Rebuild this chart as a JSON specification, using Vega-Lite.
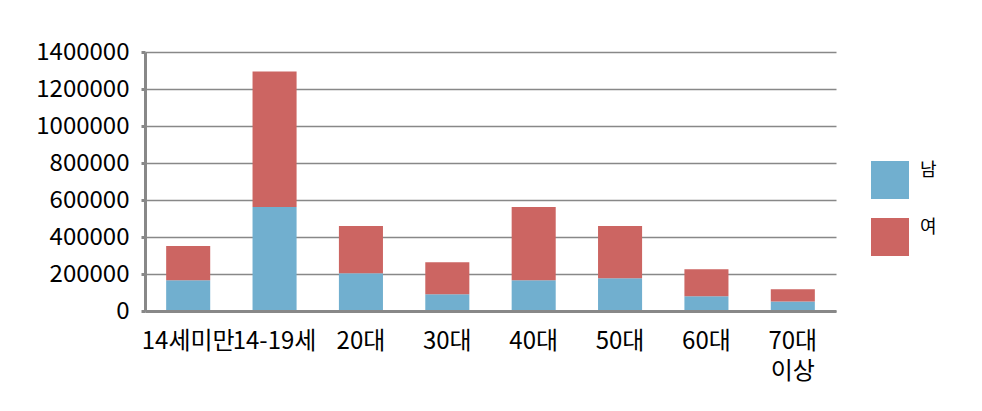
{
  "$schema": "https://vega.github.io/schema/vega-lite/v6.json",
  "width": 691,
  "height": 259,
  "autosize": {"type": "none"},
  "padding": {"left": 145, "top": 52, "right": 146, "bottom": 100},
  "background": "white",
  "config": {
    "font": "Noto Sans CJK KR",
    "view": {"stroke": null},
    "axis": {"labelFont": "Noto Sans CJK KR", "labelColor": "#000000"},
    "legend": {"labelFont": "Noto Sans CJK KR", "labelColor": "#000000"}
  },
  "data": {
    "values": [
      {"age": "14세미만", "sex": "남", "value": 166000, "ord": 0},
      {"age": "14세미만", "sex": "여", "value": 185000, "ord": 1},
      {"age": "14-19세", "sex": "남", "value": 562000, "ord": 0},
      {"age": "14-19세", "sex": "여", "value": 732000, "ord": 1},
      {"age": "20대", "sex": "남", "value": 204000, "ord": 0},
      {"age": "20대", "sex": "여", "value": 255000, "ord": 1},
      {"age": "30대", "sex": "남", "value": 90500, "ord": 0},
      {"age": "30대", "sex": "여", "value": 173500, "ord": 1},
      {"age": "40대", "sex": "남", "value": 166000, "ord": 0},
      {"age": "40대", "sex": "여", "value": 396000, "ord": 1},
      {"age": "50대", "sex": "남", "value": 177000, "ord": 0},
      {"age": "50대", "sex": "여", "value": 282000, "ord": 1},
      {"age": "60대", "sex": "남", "value": 80000, "ord": 0},
      {"age": "60대", "sex": "여", "value": 146000, "ord": 1},
      {"age": "70대 이상", "sex": "남", "value": 51000, "ord": 0},
      {"age": "70대 이상", "sex": "여", "value": 66600, "ord": 1}
    ]
  },
  "mark": {"type": "bar"},
  "encoding": {
    "x": {
      "field": "age",
      "type": "nominal",
      "sort": null,
      "scale": {"paddingInner": 0.49, "paddingOuter": 0.245},
      "axis": {
        "title": null,
        "labelAngle": 0,
        "ticks": false,
        "labelFontSize": 24,
        "labelPadding": 18,
        "labelOverlap": false,
        "labelLimit": 0,
        "domainColor": "#888888",
        "domainWidth": 3,
        "zindex": 1,
        "labelExpr": "datum.value == '70대 이상' ? ['70대', '이상'] : datum.value",
        "labelLineHeight": 30
      }
    },
    "y": {
      "field": "value",
      "type": "quantitative",
      "stack": "zero",
      "scale": {"domain": [0, 1400000], "nice": false},
      "axis": {
        "title": null,
        "values": [0, 200000, 400000, 600000, 800000, 1000000, 1200000, 1400000],
        "format": "d",
        "labelFontSize": 24,
        "labelPadding": 12,
        "tickSize": 4,
        "tickWidth": 3,
        "tickColor": "#888888",
        "domainColor": "#888888",
        "domainWidth": 3,
        "gridColor": "#888888",
        "gridWidth": 1.3
      }
    },
    "color": {
      "field": "sex",
      "type": "nominal",
      "scale": {"domain": ["남", "여"], "range": ["#71AFCF", "#CC6562"]},
      "legend": {
        "title": null,
        "orient": "none",
        "legendX": 726,
        "legendY": 109,
        "padding": 0,
        "symbolType": "square",
        "symbolSize": 1444,
        "symbolStrokeWidth": 0,
        "symbolOpacity": 1,
        "rowPadding": 19,
        "labelFontSize": 18,
        "labelOffset": 11,
        "labelBaseline": "bottom"
      }
    },
    "order": {"field": "ord", "type": "quantitative"}
  }
}
